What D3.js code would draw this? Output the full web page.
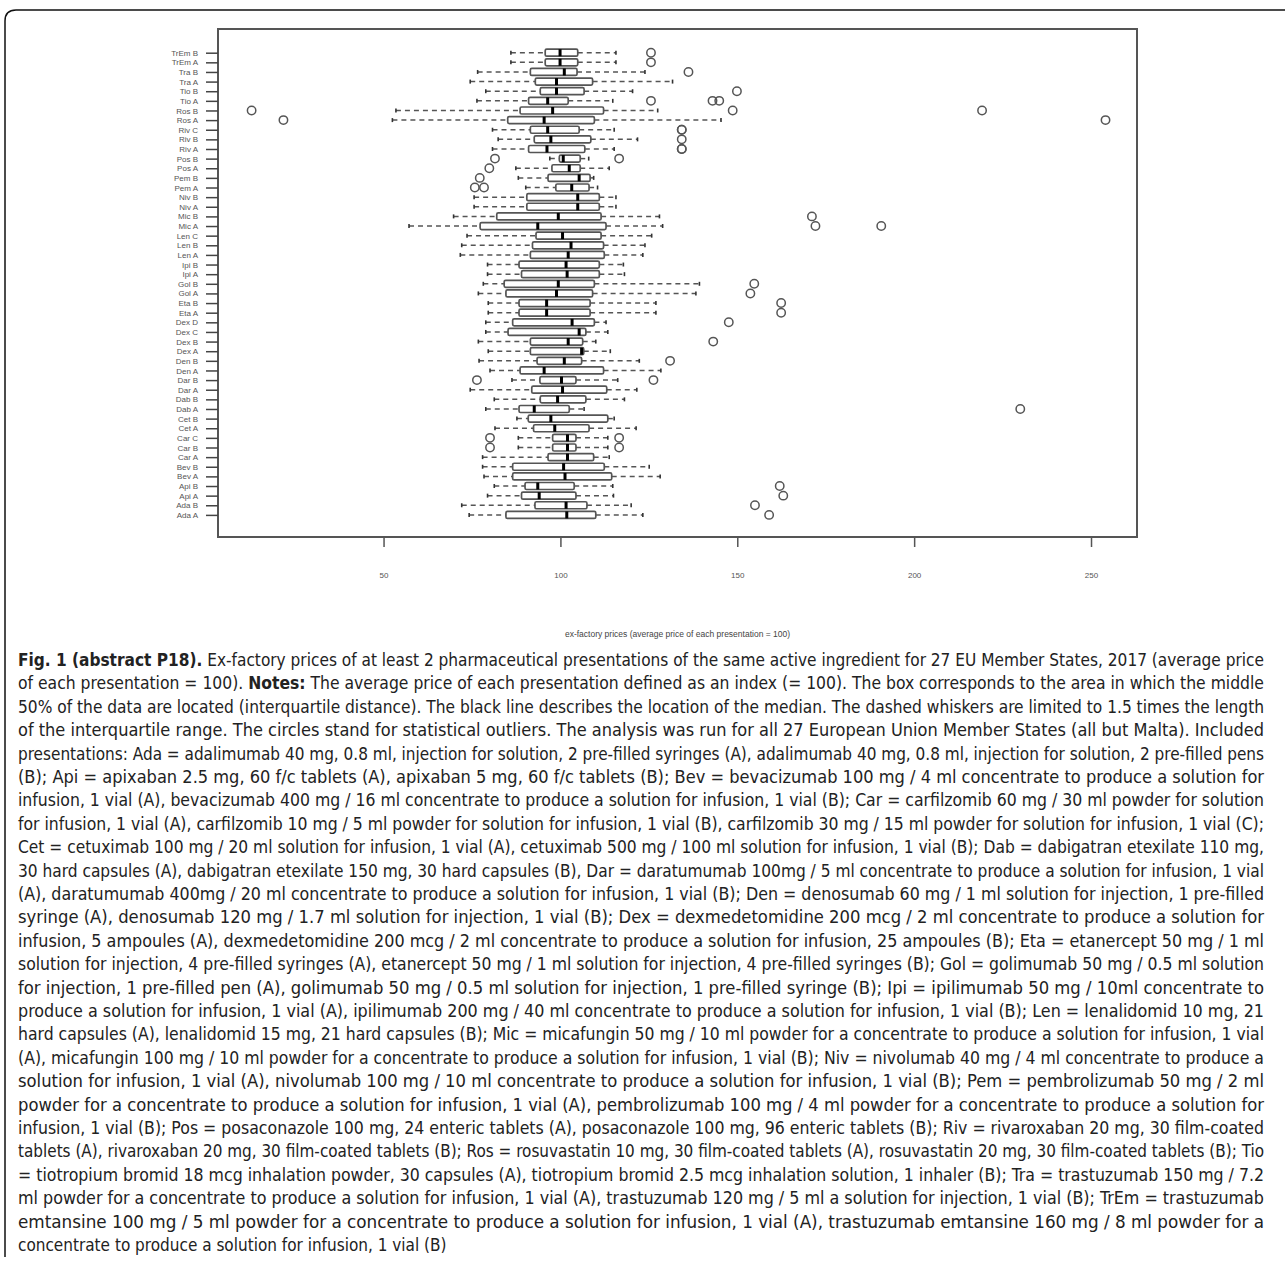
<!DOCTYPE html>
<html>
<head>
<meta charset="utf-8">
<script src="https://cdn.jsdelivr.net/npm/d3@7"></script>
<style>
  body { margin: 0; background: #fff; }
  svg { display: block; }
</style>
</head>
<body>
<div id="chart-area"></div>
<script>
// Categories, bottom to top (as in the R boxplot)
const categories = ["Ada A","Ada B","Api A","Api B","Bev A","Bev B","Car A","Car B","Car C","Cet A","Cet B",
  "Dab A","Dab B","Dar A","Dar B","Den A","Den B","Dex A","Dex B","Dex C","Dex D","Eta A","Eta B",
  "Gol A","Gol B","Ipi A","Ipi B","Len A","Len B","Len C","Mic A","Mic B","Niv A","Niv B","Pem A","Pem B",
  "Pos A","Pos B","Riv A","Riv B","Riv C","Ros A","Ros B","Tio A","Tio B","Tra A","Tra B","TrEm A","TrEm B"];

// Five-number summaries
const whiskerLow = [74.2,72.1,79.4,81.3,78.4,78.0,78.0,88.1,88.1,81.5,87.7,
  78.9,81.3,74.5,86.3,80.1,77.0,79.6,76.8,78.9,78.9,79.6,79.6,
  76.8,78.2,79.4,79.4,71.7,72.1,73.6,57.2,69.8,75.6,75.6,90.2,88.1,
  87.4,97.0,80.8,82.4,80.8,52.5,53.5,76.4,78.9,74.5,76.6,86.0,86.0];
const q1 = [84.6,92.8,89.0,90.0,86.5,86.5,96.5,97.8,97.8,92.4,90.9,
  88.3,94.3,91.9,94.2,88.6,93.4,91.5,91.5,85.2,86.5,88.3,88.3,
  84.6,84.1,89.0,88.3,91.5,92.1,93.1,77.3,82.0,90.5,90.5,98.7,96.5,
  97.6,99.7,91.0,92.6,91.5,85.1,88.6,91.0,94.3,92.9,91.5,95.7,95.7];
const medians = [101.8,101.6,94.0,93.6,101.3,100.9,102.0,102.0,102.0,98.4,97.3,
  92.6,99.2,100.6,100.3,95.4,101.1,106.0,102.2,105.3,103.3,96.1,96.1,
  98.9,99.4,101.9,101.6,102.2,103.0,100.6,93.6,99.4,104.9,104.9,103.2,105.3,
  102.5,100.8,96.2,97.3,96.4,95.4,97.8,96.4,98.9,98.9,101.1,99.9,99.9];
const q3 = [110.0,107.5,104.4,103.9,114.5,112.4,109.4,104.4,104.4,108.1,113.4,
  102.5,107.2,113.1,104.4,112.2,106.0,106.6,106.3,107.2,109.6,108.4,108.4,
  109.1,109.6,111.0,111.0,112.4,112.2,111.5,112.9,111.5,111.0,111.0,108.1,108.4,
  105.6,105.6,106.9,108.6,105.3,109.6,112.2,102.2,106.7,109.1,104.7,104.9,104.9];
const whiskerHigh = [123.3,120.0,115.0,114.8,128.2,125.1,113.8,113.4,113.4,121.4,115.2,
  106.7,118.1,121.6,116.2,128.4,122.3,114.1,110.0,113.4,112.9,127.0,127.0,
  138.3,139.3,118.1,117.8,123.3,123.9,125.8,128.9,128.0,115.7,115.7,110.5,109.4,
  113.8,108.0,115.2,121.8,115.2,145.4,127.5,114.8,120.4,131.7,123.9,115.7,115.7];
const outliers = [[159],[155],[163],[162],[],[],[],[80.1,116.6],[80.1,116.6],[],[],
  [230.0],[],[],[76.4,126.3],[],[131.0],[],[143.2],[],[147.6],[162.4],[162.4],
  [153.7],[154.8],[],[],[],[],[],[172.1,190.7],[171.1],[],[],[75.8,78.4],[77.2],
  [79.9],[81.5,116.6],[134.3,134.3],[134.3],[134.3,134.3],[21.7,254.1],[12.7,148.7,219.2],[125.6,143.0,144.9],[149.9],[],[136.2],[125.6],[125.6]];

const xTicks = [50, 100, 150, 200, 250];
const xTitle = "ex-factory prices (average price of each presentation = 100)";

// Caption lines: [text, bold] segments
const captionLines = [
  [["Fig. 1 (abstract P18).", true], [" Ex-factory prices of at least 2 pharmaceutical presentations of the same active ingredient for 27 EU Member States, 2017 (average price", false]],
  [["of each presentation = 100). ", false], ["Notes:", true], [" The average price of each presentation defined as an index (= 100). The box corresponds to the area in which the middle", false]],
  [["50% of the data are located (interquartile distance). The black line describes the location of the median. The dashed whiskers are limited to 1.5 times the length", false]],
  [["of the interquartile range. The circles stand for statistical outliers. The analysis was run for all 27 European Union Member States (all but Malta). Included", false]],
  [["presentations: Ada = adalimumab 40 mg, 0.8 ml, injection for solution, 2 pre-filled syringes (A), adalimumab 40 mg, 0.8 ml, injection for solution, 2 pre-filled pens", false]],
  [["(B); Api = apixaban 2.5 mg, 60 f/c tablets (A), apixaban 5 mg, 60 f/c tablets (B); Bev = bevacizumab 100 mg / 4 ml concentrate to produce a solution for", false]],
  [["infusion, 1 vial (A), bevacizumab 400 mg / 16 ml concentrate to produce a solution for infusion, 1 vial (B); Car = carfilzomib 60 mg / 30 ml powder for solution", false]],
  [["for infusion, 1 vial (A), carfilzomib 10 mg / 5 ml powder for solution for infusion, 1 vial (B), carfilzomib 30 mg / 15 ml powder for solution for infusion, 1 vial (C);", false]],
  [["Cet = cetuximab 100 mg / 20 ml solution for infusion, 1 vial (A), cetuximab 500 mg / 100 ml solution for infusion, 1 vial (B); Dab = dabigatran etexilate 110 mg,", false]],
  [["30 hard capsules (A), dabigatran etexilate 150 mg, 30 hard capsules (B), Dar = daratumumab 100mg / 5 ml concentrate to produce a solution for infusion, 1 vial", false]],
  [["(A), daratumumab 400mg / 20 ml concentrate to produce a solution for infusion, 1 vial (B); Den = denosumab 60 mg / 1 ml solution for injection, 1 pre-filled", false]],
  [["syringe (A), denosumab 120 mg / 1.7 ml solution for injection, 1 vial (B); Dex = dexmedetomidine 200 mcg / 2 ml concentrate to produce a solution for", false]],
  [["infusion, 5 ampoules (A), dexmedetomidine 200 mcg / 2 ml concentrate to produce a solution for infusion, 25 ampoules (B); Eta = etanercept 50 mg / 1 ml", false]],
  [["solution for injection, 4 pre-filled syringes (A), etanercept 50 mg / 1 ml solution for injection, 4 pre-filled syringes (B); Gol = golimumab 50 mg / 0.5 ml solution", false]],
  [["for injection, 1 pre-filled pen (A), golimumab 50 mg / 0.5 ml solution for injection, 1 pre-filled syringe (B); Ipi = ipilimumab 50 mg / 10ml concentrate to", false]],
  [["produce a solution for infusion, 1 vial (A), ipilimumab 200 mg / 40 ml concentrate to produce a solution for infusion, 1 vial (B); Len = lenalidomid 10 mg, 21", false]],
  [["hard capsules (A), lenalidomid 15 mg, 21 hard capsules (B); Mic = micafungin 50 mg / 10 ml powder for a concentrate to produce a solution for infusion, 1 vial", false]],
  [["(A), micafungin 100 mg / 10 ml powder for a concentrate to produce a solution for infusion, 1 vial (B); Niv = nivolumab 40 mg / 4 ml concentrate to produce a", false]],
  [["solution for infusion, 1 vial (A), nivolumab 100 mg / 10 ml concentrate to produce a solution for infusion, 1 vial (B); Pem = pembrolizumab 50 mg / 2 ml", false]],
  [["powder for a concentrate to produce a solution for infusion, 1 vial (A), pembrolizumab 100 mg / 4 ml powder for a concentrate to produce a solution for", false]],
  [["infusion, 1 vial (B); Pos = posaconazole 100 mg, 24 enteric tablets (A), posaconazole 100 mg, 96 enteric tablets (B); Riv = rivaroxaban 20 mg, 30 film-coated", false]],
  [["tablets (A), rivaroxaban 20 mg, 30 film-coated tablets (B); Ros = rosuvastatin 10 mg, 30 film-coated tablets (A), rosuvastatin 20 mg, 30 film-coated tablets (B); Tio", false]],
  [["= tiotropium bromid 18 mcg inhalation powder, 30 capsules (A), tiotropium bromid 2.5 mcg inhalation solution, 1 inhaler (B); Tra = trastuzumab 150 mg / 7.2", false]],
  [["ml powder for a concentrate to produce a solution for infusion, 1 vial (A), trastuzumab 120 mg / 5 ml a solution for injection, 1 vial (B); TrEm = trastuzumab", false]],
  [["emtansine 100 mg / 5 ml powder for a concentrate to produce a solution for infusion, 1 vial (A), trastuzumab emtansine 160 mg / 8 ml powder for a", false]],
  [["concentrate to produce a solution for infusion, 1 vial (B)", false]]
];

const W = 1285, H = 1261;
const plot = { left: 218, right: 1137, top: 29, bottom: 537 };

const svg = d3.select("#chart-area")
  .append("svg")
  .attr("width", W)
  .attr("height", H);

// outer figure frame (rounded top-left corner)
svg.append("path")
  .attr("d", "M5,1257 V21 Q5,10 16,10 H1285")
  .attr("fill", "none")
  .attr("stroke", "#111")
  .attr("stroke-width", 1.5);

// scales
const x = d3.scaleLinear().domain([3.2, 263]).range([plot.left, plot.right]);
const y = d3.scalePoint().domain(categories.slice().reverse()).range([52.7, 514.9]);
const boxH = 7;

const rows = categories.map((c, i) => ({
  cat: c, lo: whiskerLow[i], q1: q1[i], med: medians[i], q3: q3[i], hi: whiskerHigh[i], out: outliers[i]
}));

const g = svg.append("g");

// whiskers
const wColor = "#555";
rows.forEach(d => {
  const yc = y(d.cat);
  [[d.lo, d.q1], [d.q3, d.hi]].forEach(([a, b]) => {
    g.append("line")
      .attr("x1", x(a)).attr("x2", x(b))
      .attr("y1", yc).attr("y2", yc)
      .attr("stroke", wColor)
      .attr("stroke-width", 1.5)
      .attr("stroke-dasharray", "5,4");
  });
  [d.lo, d.hi].forEach(v => {
    g.append("line")
      .attr("x1", x(v)).attr("x2", x(v))
      .attr("y1", yc - 2).attr("y2", yc + 2)
      .attr("stroke", "#333")
      .attr("stroke-width", 1.6);
  });
});

// boxes
g.selectAll("rect.box")
  .data(rows)
  .enter().append("rect")
  .attr("class", "box")
  .attr("x", d => x(d.q1))
  .attr("y", d => y(d.cat) - boxH / 2)
  .attr("width", d => x(d.q3) - x(d.q1))
  .attr("height", boxH)
  .attr("rx", 1.5)
  .attr("fill", "#fff")
  .attr("stroke", "#555")
  .attr("stroke-width", 1.7);

// medians
g.selectAll("line.median")
  .data(rows)
  .enter().append("line")
  .attr("class", "median")
  .attr("x1", d => x(d.med)).attr("x2", d => x(d.med))
  .attr("y1", d => y(d.cat) - boxH / 2)
  .attr("y2", d => y(d.cat) + boxH / 2)
  .attr("stroke", "#000")
  .attr("stroke-width", 3);

// outliers
const outPts = rows.flatMap(d => d.out.map(v => ({ cat: d.cat, v })));
g.selectAll("circle.out")
  .data(outPts)
  .enter().append("circle")
  .attr("class", "out")
  .attr("cx", d => x(d.v))
  .attr("cy", d => y(d.cat))
  .attr("r", 4.2)
  .attr("fill", "none")
  .attr("stroke", "#555")
  .attr("stroke-width", 1.5);

// plot frame
svg.append("rect")
  .attr("x", plot.left).attr("y", plot.top)
  .attr("width", plot.right - plot.left)
  .attr("height", plot.bottom - plot.top)
  .attr("fill", "none")
  .attr("stroke", "#555")
  .attr("stroke-width", 2);

// y axis
const yAxis = svg.append("g")
  .attr("transform", `translate(${plot.left}, 0)`)
  .call(d3.axisLeft(y).tickSize(12).tickPadding(8));
yAxis.select(".domain").remove();
yAxis.selectAll(".tick line").attr("stroke", "#444").attr("stroke-width", 1.5);
yAxis.selectAll(".tick text")
  .attr("fill", "#555")
  .style("font-family", "Liberation Sans, Arial, sans-serif")
  .style("font-size", "8px");

// x axis
const xAxis = svg.append("g")
  .attr("transform", `translate(0, ${plot.bottom})`)
  .call(d3.axisBottom(x).tickValues(xTicks).tickSize(10).tickPadding(25));
xAxis.select(".domain").remove();
xAxis.selectAll(".tick line").attr("stroke", "#555").attr("stroke-width", 1.5);
xAxis.selectAll(".tick text")
  .attr("fill", "#555")
  .style("font-family", "Liberation Sans, Arial, sans-serif")
  .style("font-size", "8px");

svg.append("text")
  .attr("x", (plot.left + plot.right) / 2)
  .attr("y", 637)
  .attr("text-anchor", "middle")
  .attr("fill", "#444")
  .style("font-family", "Liberation Sans, Arial, sans-serif")
  .style("font-size", "8.5px")
  .text(xTitle);

// caption
const capX = 18, capY0 = 666, capStep = 23.4, capW = 1246;
captionLines.forEach((segs, i) => {
  const t = svg.append("text")
    .attr("x", capX)
    .attr("y", capY0 + i * capStep)
    .attr("fill", "#222")
    .style("font-family", "'Liberation Sans Narrow', 'DejaVu Sans Condensed', 'Roboto', sans-serif")
    .style("font-size", "17px");
  if (i < captionLines.length - 1) {
    t.attr("textLength", capW).attr("lengthAdjust", "spacingAndGlyphs");
  }
  segs.forEach(([txt, bold]) => {
    t.append("tspan")
      .attr("font-weight", bold ? "bold" : "normal")
      .text(txt);
  });
});
</script>
</body>
</html>
